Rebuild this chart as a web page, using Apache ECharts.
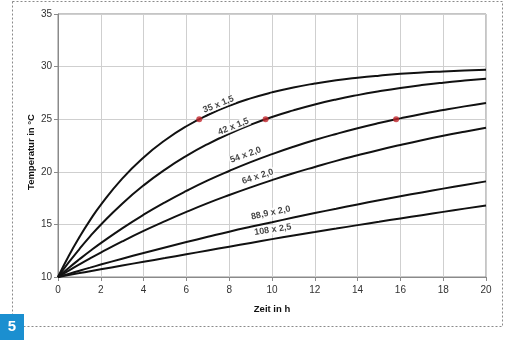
<!DOCTYPE html>
<html>
<head>
<meta charset="utf-8">
<script src="https://cdn.jsdelivr.net/npm/echarts@6/dist/echarts.min.js"></script>
<style>
  html, body { margin: 0; padding: 0; background: #fff; }
  #chart { width: 506px; height: 341px; }
</style>
</head>
<body>
<div id="chart"></div>
<script>
// Time axis (hours)
const hours = [0, 0.5, 1, 1.5, 2, 3, 4, 5, 6, 7, 8, 9, 10, 11, 12, 13, 14, 15, 16, 17, 18, 19, 20];

// Temperature (°C) over time for each pipe dimension
const pipe35x15  = [10, 12.00, 13.79, 15.41, 16.86, 19.35, 21.37, 23.00, 24.33, 25.40, 26.28, 26.98, 27.55, 28.02, 28.39, 28.70, 28.94, 29.14, 29.31, 29.44, 29.54, 29.63, 29.70];
const pipe42x15  = [10, 11.38, 12.66, 13.86, 14.97, 16.97, 18.71, 20.21, 21.51, 22.64, 23.62, 24.47, 25.21, 25.84, 26.40, 26.88, 27.29, 27.65, 27.97, 28.24, 28.47, 28.67, 28.85];
const pipe54x20  = [10, 10.86, 11.68, 12.47, 13.22, 14.63, 15.92, 17.10, 18.18, 19.18, 20.08, 20.92, 21.68, 22.38, 23.02, 23.60, 24.14, 24.63, 25.08, 25.50, 25.87, 26.22, 26.54];
const pipe64x20  = [10, 10.61, 11.20, 11.77, 12.32, 13.38, 14.38, 15.31, 16.19, 17.02, 17.79, 18.52, 19.21, 19.86, 20.46, 21.04, 21.57, 22.08, 22.55, 23.00, 23.42, 23.81, 24.18];
const pipe889x20 = [10, 10.30, 10.60, 10.89, 11.18, 11.74, 12.28, 12.81, 13.32, 13.82, 14.31, 14.77, 15.21, 15.65, 16.08, 16.49, 16.90, 17.29, 17.67, 18.04, 18.40, 18.75, 19.09];
const pipe108x25 = [10, 10.19, 10.37, 10.55, 10.73, 11.09, 11.45, 11.80, 12.16, 12.52, 12.88, 13.24, 13.60, 13.94, 14.27, 14.60, 14.93, 15.25, 15.57, 15.88, 16.19, 16.50, 16.80];

// Curve names and where each one's label sits [hour, °C]
const curveNames = ['35 x 1,5', '42 x 1,5', '54 x 2,0', '64 x 2,0', '88,9 x 2,0', '108 x 2,5'];
const labelAnchors = [[7.5, 26.4], [8.2, 24.3], [8.77, 21.6], [9.33, 19.55], [9.94, 16.1], [10.04, 14.5]];
const labelAngles = [22, 22, 20, 18, 12, 9];

// Times at which each of the first three curves reaches 25 °C
const marks25 = [[6.6, 25], [9.7, 25], [15.8, 25]];

// Axis ticks
const xTicks = { min: 0, max: 20, step: 2 };
const yTicks = { min: 10, max: 35, step: 5 };

const curves = [pipe35x15, pipe42x15, pipe54x20, pipe64x20, pipe889x20, pipe108x25];
const FONT = '"Liberation Sans", Arial, sans-serif';

const series = curves.map((vals, i) => ({
  name: curveNames[i],
  type: 'line',
  data: hours.map((h, k) => [h, vals[k]]),
  smooth: true,
  showSymbol: false,
  lineStyle: { color: '#111', width: 2 },
  z: 3
}));

// Curve labels, rotated along the lines with a white backdrop
curveNames.forEach((name, i) => {
  series.push({
    type: 'scatter',
    data: [[labelAnchors[i][0], labelAnchors[i][1]]],
    symbolSize: 0,
    silent: true,
    z: 4,
    label: {
      show: true,
      position: 'inside',
      formatter: name,
      rotate: labelAngles[i],
      color: '#111',
      fontFamily: FONT,
      fontSize: 9,
      fontWeight: 'bold',
      backgroundColor: '#fff',
      padding: [0, 1]
    }
  });
});

series.push({
  type: 'scatter',
  data: marks25,
  symbolSize: 6,
  itemStyle: { color: '#c1272d' },
  z: 5
});

const chart = echarts.init(document.getElementById('chart'), null, { renderer: 'canvas' });
chart.setOption({
  animation: false,
  backgroundColor: '#fff',
  grid: { left: 58, right: 20, top: 14, bottom: 64, show: true, borderColor: '#8a8a8a', borderWidth: 1 },
  xAxis: {
    type: 'value',
    min: xTicks.min, max: xTicks.max, interval: xTicks.step,
    name: 'Zeit in h',
    nameLocation: 'middle',
    nameGap: 27,
    nameTextStyle: { fontFamily: FONT, fontSize: 9.5, fontWeight: 'bold', color: '#111' },
    axisLine: { lineStyle: { color: '#8a8a8a' } },
    axisTick: { show: true, length: 4, lineStyle: { color: '#8a8a8a' } },
    axisLabel: { fontFamily: FONT, fontSize: 10, color: '#333', margin: 8 },
    splitLine: { show: true, lineStyle: { color: '#cfcfcf', width: 1 } }
  },
  yAxis: {
    type: 'value',
    min: yTicks.min, max: yTicks.max, interval: yTicks.step,
    axisLine: { show: true, lineStyle: { color: '#8a8a8a' } },
    axisTick: { show: true, length: 4, lineStyle: { color: '#8a8a8a' } },
    axisLabel: { fontFamily: FONT, fontSize: 10, color: '#333', margin: 6 },
    splitLine: { show: true, lineStyle: { color: '#cfcfcf', width: 1 } }
  },
  graphic: [
    {
      type: 'rect',
      shape: { x: 12.5, y: 1.5, width: 490, height: 325 },
      style: { fill: 'none', stroke: '#8a8a8a', lineWidth: 1, lineDash: [2, 2] },
      z: 0
    },
    {
      type: 'rect',
      shape: { x: 0, y: 314, width: 24, height: 26 },
      style: { fill: '#1b8fd0' },
      z: 10
    },
    {
      type: 'text',
      x: 12, y: 327,
      style: { text: '5', fill: '#fff', font: 'bold 15px ' + FONT, textAlign: 'center', textVerticalAlign: 'middle' },
      z: 11
    },
    {
      type: 'text',
      x: 31, y: 152,
      rotation: Math.PI / 2,
      style: { text: 'Temperatur in °C', fill: '#111', font: 'bold 9.5px ' + FONT, textAlign: 'center', textVerticalAlign: 'middle' },
      z: 10
    }
  ],
  series: series
});
</script>
</body>
</html>
